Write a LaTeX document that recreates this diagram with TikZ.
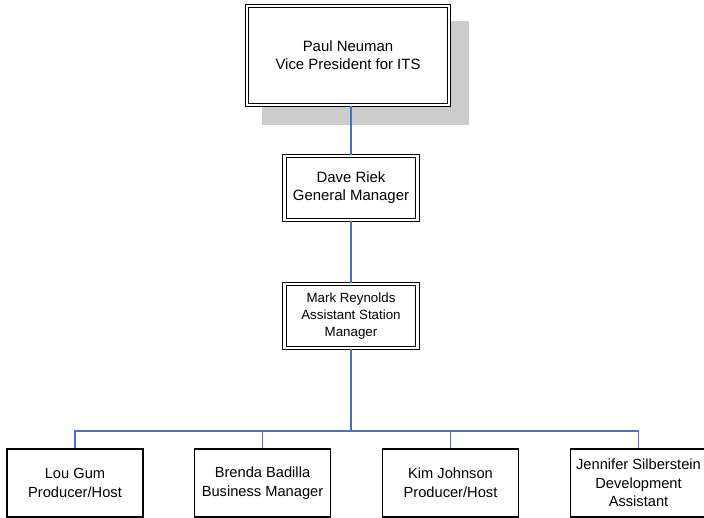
\documentclass[tikz,border=0pt]{standalone}
\usepackage{fontspec}
\setmainfont{Liberation Sans}
\begin{document}
\begin{tikzpicture}[x=0.75pt,y=-0.75pt,
  conn/.style={draw={rgb,255:red,68;green,114;blue,196},line width=0.9pt},
  dbox/.style={draw=black,double=white,double distance=1.6pt,line width=0.8pt,
    align=center,inner sep=0pt,font=\fontsize{11.2}{13.5}\selectfont},
  sbox/.style={draw=black,line width=0.8pt,minimum width=136*0.75pt,minimum height=68*0.75pt,
    align=center,inner sep=0pt,font=\fontsize{11}{14}\selectfont},
  shadowfill/.style={fill={rgb,255:red,204;green,204;blue,204}}]
\useasboundingbox (0,0) rectangle (704,518);

% shadow behind the top box
\fill[shadowfill] (262,21) rectangle (469,125);

% boxes
\node[dbox,minimum width=202*0.75pt,minimum height=99*0.75pt,fill=white] (vp) at (348,55.5)
  {Paul Neuman\\Vice President for ITS};
\node[dbox,minimum width=133*0.75pt,minimum height=64*0.75pt] (gm) at (351,188)
  {Dave Riek\\General Manager};
\node[dbox,minimum width=133*0.75pt,minimum height=64*0.75pt,font=\fontsize{10}{12.5}\selectfont] (asm) at (351,316)
  {Mark Reynolds\\Assistant Station\\Manager};

\node[sbox] (c1) at (75,483) {Lou Gum\\Producer/Host};
\node[sbox] (c2) at (262.5,483) {Brenda Badilla\\Business Manager};
\node[sbox] (c3) at (450.5,483) {Kim Johnson\\Producer/Host};
\node[sbox] (c4) at (638.5,483) {Jennifer Silberstein\\Development\\Assistant};

% connectors
\coordinate (bus) at (351,431);
\draw[conn] (gm.north |- vp.south) -- (gm.north);
\draw[conn] (gm.south) -- (asm.north);
\draw[conn] (asm.south) -- (bus);
\foreach \c in {c1,c2,c3,c4}
  \draw[conn] (bus) -| (\c.north);
\end{tikzpicture}
\end{document}
